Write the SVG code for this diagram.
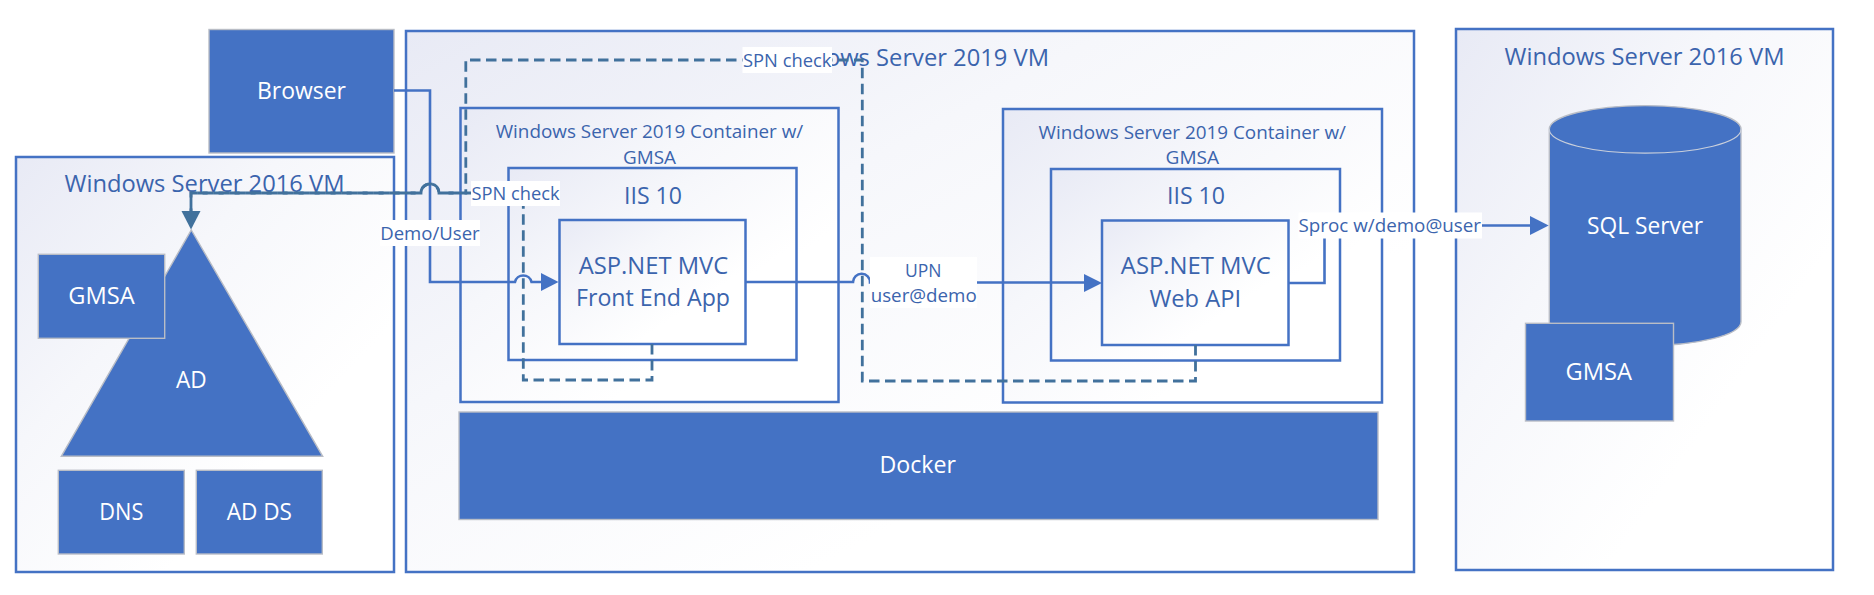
<svg xmlns="http://www.w3.org/2000/svg" width="1874" height="595" viewBox="0 0 1874 595">
<style>
text{font-family:"Open Sans","Noto Sans","Liberation Sans",sans-serif;text-anchor:start}
.box{fill:url(#g);stroke:#4472c4;stroke-width:2.5}
.solid{fill:#4472c4;stroke:#b9bdc6;stroke-width:1.4}
.t{fill:#3b64ad}
.w{fill:#fff}
.lbl{fill:#fff;stroke:none}
.c{fill:none;stroke:#4472c4;stroke-width:2.6}
.d{fill:none;stroke:#41719c;stroke-width:2.8;stroke-dasharray:10.5 5.5}
.ad{fill:#4472c4;stroke:none}
.ah{fill:#41719c;stroke:none}
</style>
<defs>
<linearGradient id="g" x1="0" y1="0" x2="1" y2="1"><stop offset="0" stop-color="#e8eaf5"/><stop offset=".35" stop-color="#f6f7fb"/><stop offset=".7" stop-color="#fff"/></linearGradient>
</defs>
<rect width="1874" height="595" fill="#fff"/>
<g id="vm-left"><rect class="box" x="16" y="157" width="378" height="415"/><text class="t" x="64.500" y="192" font-size="24" textLength="280" lengthAdjust="spacingAndGlyphs">Windows Server 2016 VM</text></g>
<g id="vm-mid"><rect class="box" x="406" y="31" width="1008" height="541"/><text class="t" x="769" y="65.500" font-size="24" textLength="280" lengthAdjust="spacingAndGlyphs">Windows Server 2019 VM</text></g>
<g id="vm-right"><rect class="box" x="1456" y="29" width="377" height="541"/><text class="t" x="1504.500" y="64.500" font-size="24" textLength="280" lengthAdjust="spacingAndGlyphs">Windows Server 2016 VM</text></g>
<g id="browser"><rect class="solid" x="209" y="29.500" width="185" height="123.500"/><text class="w" x="257" y="98.500" font-size="23.500" textLength="89" lengthAdjust="spacingAndGlyphs">Browser</text></g>
<g id="ad"><path class="solid" d="M191.300 230L322.700 456.300H61.300Z"/><text class="w" x="176" y="388" font-size="23.500" textLength="30.700" lengthAdjust="spacingAndGlyphs">AD</text></g>
<g id="gmsa-left"><rect class="solid" x="38.300" y="254.300" width="126.400" height="84"/><text class="w" x="68.300" y="304" font-size="23.500" textLength="66.400" lengthAdjust="spacingAndGlyphs">GMSA</text></g>
<g id="dns"><rect class="solid" x="58.300" y="470.300" width="126" height="83.700"/><text class="w" x="99.300" y="520" font-size="23.500" textLength="44" lengthAdjust="spacingAndGlyphs">DNS</text></g>
<g id="adds"><rect class="solid" x="196.300" y="470.300" width="126" height="83.700"/><text class="w" x="226.700" y="520" font-size="23.500" textLength="65.300" lengthAdjust="spacingAndGlyphs">AD DS</text></g>
<g id="container-1"><rect class="box" x="460.500" y="108" width="378" height="294"/><text class="t" x="495.700" y="138" font-size="18.500" textLength="307.500" lengthAdjust="spacingAndGlyphs">Windows Server 2019 Container w/</text><text class="t" x="623" y="164" font-size="18.500" textLength="53" lengthAdjust="spacingAndGlyphs">GMSA</text></g>
<g id="iis-1"><rect class="box" x="508.500" y="168" width="288" height="192"/><text class="t" x="624" y="203.500" font-size="24" textLength="58" lengthAdjust="spacingAndGlyphs">IIS 10</text></g>
<g id="app-1"><rect class="box" x="559.500" y="220" width="186" height="124"/><text class="t" x="578.700" y="274" font-size="24" textLength="149.500" lengthAdjust="spacingAndGlyphs">ASP.NET MVC</text><text class="t" x="576" y="306" font-size="24" textLength="154" lengthAdjust="spacingAndGlyphs">Front End App</text></g>
<g id="container-2"><rect class="box" x="1003" y="109" width="379" height="293.500"/><text class="t" x="1038.500" y="139" font-size="18.500" textLength="307.500" lengthAdjust="spacingAndGlyphs">Windows Server 2019 Container w/</text><text class="t" x="1165.600" y="164" font-size="18.500" textLength="53.500" lengthAdjust="spacingAndGlyphs">GMSA</text></g>
<g id="iis-2"><rect class="box" x="1051" y="169" width="289" height="191.500"/><text class="t" x="1167" y="203.500" font-size="24" textLength="58" lengthAdjust="spacingAndGlyphs">IIS 10</text></g>
<g id="app-2"><rect class="box" x="1102" y="220.500" width="186.500" height="124.500"/><text class="t" x="1120.800" y="274" font-size="24" textLength="150" lengthAdjust="spacingAndGlyphs">ASP.NET MVC</text><text class="t" x="1149.500" y="306.500" font-size="24" textLength="91.500" lengthAdjust="spacingAndGlyphs">Web API</text></g>
<g id="docker"><rect class="solid" x="459" y="412" width="919" height="107.500"/><text class="w" x="879.500" y="473" font-size="23.500" textLength="76.500" lengthAdjust="spacingAndGlyphs">Docker</text></g>
<g id="sql-server"><path class="solid" d="M1549.300 129.300A95.800 23.700 0 0 1 1741 129.300V321.700A95.800 24 0 0 1 1549.300 321.700Z"/><path d="M1549.300 129.300A95.800 23.900 0 0 0 1741 129.300" fill="none" stroke="#c9cfdb" stroke-width="1.2"/><text class="w" x="1587" y="234" font-size="23.500" textLength="116" lengthAdjust="spacingAndGlyphs">SQL Server</text></g>
<g id="gmsa-right"><rect class="solid" x="1525.500" y="323.300" width="148" height="97.700"/><text class="w" x="1565.500" y="380" font-size="23.500" textLength="66.500" lengthAdjust="spacingAndGlyphs">GMSA</text></g>
<g id="connectors">
<path class="c" d="M394 90.500H430V282H515A8.500 8.500 0 0 1 531.500 282H541"/>
<path class="ad" d="M541 273L558.500 282L541 291Z"/>
<path class="d" d="M652 344V380H523.300V193H439A9 9 0 0 0 421 193H191V211"/>
<path class="ah" d="M181.500 211H200.500L191 229.500Z"/>
<path class="d" d="M1195.500 345V381H862.300V60H465.800V193H439A9 9 0 0 0 421 193H191V211"/>
<path class="c" d="M745.500 282H853A8.500 8.500 0 0 1 870 282.500H1085"/>
<path class="ad" d="M1084 274L1102 283L1084 292Z"/>
<path class="c" d="M1288.500 283H1324.500V225.500H1531"/>
<path class="ad" d="M1530 216L1548.700 225.500L1530 235Z"/>
<rect class="lbl" x="380" y="220" width="100" height="26"/><text class="t" x="380.200" y="240" font-size="18.500" textLength="99.500" lengthAdjust="spacingAndGlyphs">Demo/User</text>
<rect class="lbl" x="471" y="181" width="89" height="25"/><text class="t" x="471.500" y="200" font-size="18.500" textLength="88" lengthAdjust="spacingAndGlyphs">SPN check</text>
<rect class="lbl" x="742.500" y="47" width="89.500" height="26"/><text class="t" x="743" y="66.500" font-size="18.500" textLength="88.500" lengthAdjust="spacingAndGlyphs">SPN check</text>
<rect class="lbl" x="870" y="257" width="107" height="51"/><text class="t" x="905" y="277" font-size="18.500" textLength="36.500" lengthAdjust="spacingAndGlyphs">UPN</text><text class="t" x="870.700" y="302" font-size="18.500" textLength="106" lengthAdjust="spacingAndGlyphs">user@demo</text>
<rect class="lbl" x="1298.500" y="212.500" width="183.500" height="26"/><text class="t" x="1298.500" y="232" font-size="18.500" textLength="182.500" lengthAdjust="spacingAndGlyphs">Sproc w/demo@user</text>
</g>
</svg>
